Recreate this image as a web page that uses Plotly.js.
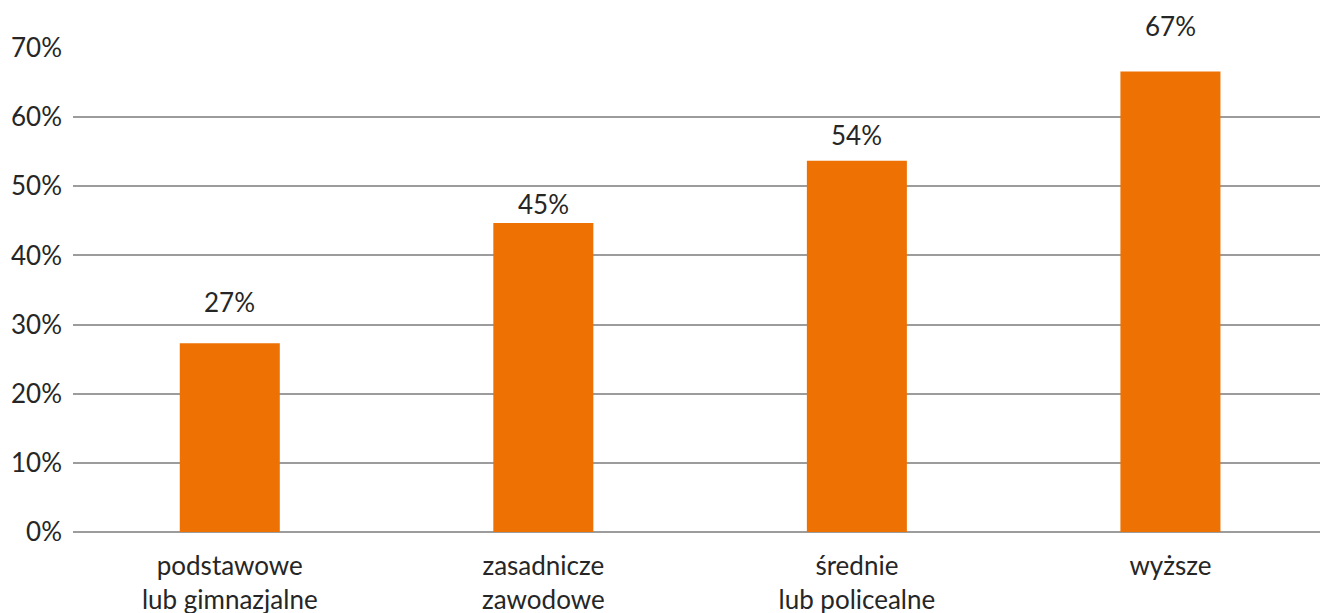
<!DOCTYPE html>
<html>
<head>
<meta charset="utf-8">
<script src="https://cdn.plot.ly/plotly-3.0.1.min.js"></script>
<style>html,body{margin:0;padding:0;background:#fff}#chart{width:1320px;height:613px}</style>
</head>
<body>
<div id="chart"></div>
<script>
var categories = ["podstawowe<br>lub gimnazjalne", "zasadnicze<br>zawodowe", "średnie<br>lub policealne", "wyższe"];
var values = [27.3, 44.7, 53.7, 66.6];
var labels = ["27%", "45%", "54%", "67%"];
var yTicks = [0, 10, 20, 30, 40, 50, 60, 70];

var trace = {
  type: "bar",
  x: [0, 1, 2, 3],
  y: values,
  width: 0.319,
  marker: {color: "#EE7203"},
  hoverinfo: "none"
};

// label offsets above each bar (pixels), as placed in the original
var labelShift = [23, 1, 8, 28];
var annotations = values.map(function(v, i) {
  return {
    x: i, y: v, xref: "x", yref: "y",
    text: labels[i], showarrow: false,
    yanchor: "bottom", yshift: labelShift[i],
    font: {family: "Lato", size: 26, color: "#262626"}
  };
});

var layout = {
  width: 1320, height: 613,
  margin: {l: 73, r: 0, t: 48, b: 81},
  paper_bgcolor: "#fff", plot_bgcolor: "#fff",
  showlegend: false,
  font: {family: "Lato", size: 26, color: "#262626"},
  xaxis: {
    range: [-0.5, 3.477],
    tickvals: [0, 1, 2, 3],
    ticktext: categories,
    tickfont: {family: "Lato", size: 26, color: "#262626"},
    showgrid: false, zeroline: false, showline: false,
    ticks: "", ticklabelstandoff: 16, fixedrange: true
  },
  yaxis: {
    range: [0, 70],
    tickvals: yTicks,
    ticktext: yTicks.map(function(t){return t + "%";}),
    tickfont: {family: "Lato", size: 26, color: "#262626"},
    showgrid: true, gridcolor: "#9c9c9c", gridwidth: 2,
    zeroline: true, zerolinecolor: "#9c9c9c", zerolinewidth: 2,
    showline: false, ticks: "", ticklabelstandoff: 10,
    fixedrange: true
  },
  annotations: annotations
};

Plotly.newPlot("chart", [trace], layout, {displayModeBar: false, staticPlot: true});
</script>
</body>
</html>
